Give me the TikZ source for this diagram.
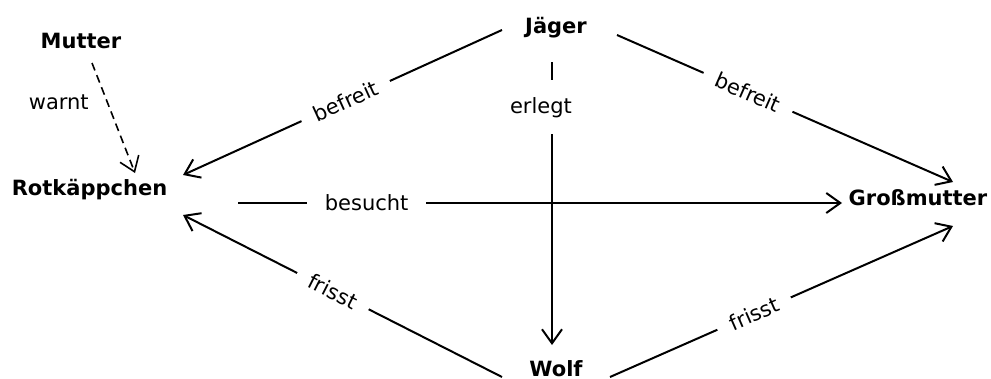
\documentclass[tikz,border=0pt]{standalone}
\usepackage{fontspec}
\setmainfont{DejaVu Sans}
\usetikzlibrary{arrows.meta}
\begin{document}
\begin{tikzpicture}[x=1pt,y=-1pt,
  every node/.style={font=\fontsize{21}{24}\selectfont},
  ent/.style={font=\fontsize{21}{24}\selectfont\bfseries, anchor=base, inner sep=0pt},
  conn/.style={line width=2pt, -{Straight Barb[length=14pt,width=20pt]}},
  lbl/.style={fill=white, inner xsep=14pt, inner ysep=3pt, sloped},
]
\useasboundingbox (0,0) rectangle (991,378);
\node[ent] (mutter) at (81,48) {Mutter};
\node[ent] (rot) at (89.5,195) {Rotkäppchen};
\node[ent] (jager) at (556,33) {Jäger};
\node[ent] (gross) at (918,205) {Großmutter};
\node[ent] (wolf) at (556,376) {Wolf};

\draw[conn] ([shift={(-54,-3)}]jager.base) -- node[lbl,pos=0.49]{befreit} ([shift={(93.5,-20)}]rot.base);
\draw[conn] ([shift={(61,2)}]jager.base) -- node[lbl,pos=0.39]{befreit} ([shift={(35,-23)}]gross.base);
\draw[conn] ([shift={(-4,29)}]jager.base) -- node[fill=white, inner xsep=4pt, inner ysep=17pt, pos=0.16, xshift=-11pt]{erlegt} ([shift={(-4,-31)}]wolf.base);
\draw[conn] ([shift={(148.5,8)}]rot.base) -- node[fill=white, inner xsep=18pt, pos=0.213]{besucht} ([shift={(-76,-2)}]gross.base);
\draw[conn] ([shift={(-54,1)}]wolf.base) -- node[lbl,pos=0.53]{frisst} ([shift={(93.5,20)}]rot.base);
\draw[conn] ([shift={(54,1)}]wolf.base) -- node[lbl,pos=0.42]{frisst} ([shift={(35,21)}]gross.base);
\draw[conn, line width=1.6pt, dash pattern=on 8pt off 5pt] ([shift={(11,15)}]mutter.base) -- node[pos=0.36, left=18pt, inner sep=0pt]{warnt} ([shift={(45.5,-22)}]rot.base);
\end{tikzpicture}
\end{document}
